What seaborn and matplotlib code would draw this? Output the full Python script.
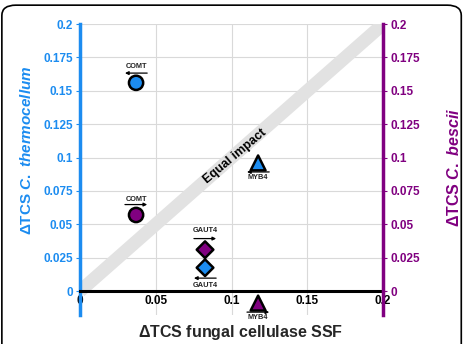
import matplotlib
matplotlib.use("Agg")
import matplotlib.pyplot as plt
import matplotlib.transforms as mtransforms
from matplotlib.patches import FancyBboxPatch
import seaborn as sns
import pandas as pd

# Data
genes = ['COMT', 'GAUT4', 'MYB4']
fungal_ssf = [0.037, 0.0825, 0.1175]
thermo_tcs = [0.156, 0.0175, 0.096]
bescii_tcs = [0.057, 0.031, -0.009]
yticks = [0, 0.025, 0.05, 0.075, 0.1, 0.125, 0.15, 0.175, 0.2]
xticks = [0, 0.05, 0.1, 0.15, 0.2]
ytick_labels = ['0', '0.025', '0.05', '0.075', '0.1', '0.125', '0.15', '0.175', '0.2']
xtick_labels = ['0', '0.05', '0.1', '0.15', '0.2']

BLUE = '#1c8cf0'
PURPLE = '#800080'

sns.set_style('white')
plt.rcParams['font.family'] = ['Liberation Sans', 'DejaVu Sans']
plt.rcParams['font.weight'] = 'bold'
plt.rcParams['mathtext.fontset'] = 'custom'
plt.rcParams['mathtext.it'] = 'Liberation Sans:italic:bold'
plt.rcParams['mathtext.rm'] = 'Liberation Sans:bold'

df = pd.DataFrame({
    'gene': genes * 2,
    'ssf': fungal_ssf * 2,
    'tcs': thermo_tcs + bescii_tcs,
    'organism': ['thermo'] * 3 + ['bescii'] * 3,
})

fig = plt.figure(figsize=(4.65, 3.44), dpi=100)
ax = fig.add_axes([0.172, 0.084, 0.652, 0.846])

# grid
for v in yticks[1:]:
    ax.axhline(v, color='#d9d9d9', lw=0.8, zorder=0)
for v in xticks[1:-1]:
    ax.axvline(v, color='#d9d9d9', lw=0.8, zorder=0)

# equal impact band
ax.plot([0, 0.2], [0, 0.2], color='#e2e2e2', lw=9.5, solid_capstyle='butt', zorder=1)
ax.text(0.102, 0.101, 'Equal impact', rotation=40, ha='center', va='center',
        fontsize=9, fontweight='bold', color='black', zorder=2,
        rotation_mode='anchor')

sns.scatterplot(data=df, x='ssf', y='tcs', hue='organism', style='gene', size='gene',
                palette={'thermo': BLUE, 'bescii': PURPLE},
                markers={'COMT': 'o', 'GAUT4': 'D', 'MYB4': '^'},
                sizes={'COMT': 105, 'GAUT4': 72, 'MYB4': 115},
                edgecolor='black', linewidth=1.8, legend=False,
                ax=ax, zorder=5, clip_on=False)

# gene labels with direction arrows
# (text offset, arrow offset, arrow direction) in points
label_specs = {
    ('thermo', 'COMT'): (11.5, 7, -1),
    ('thermo', 'GAUT4'): (-13, -7.5, -1),
    ('thermo', 'MYB4'): (-10.5, -6.5, -1),
    ('bescii', 'COMT'): (11.5, 7.5, 1),
    ('bescii', 'GAUT4'): (13.5, 8, 1),
    ('bescii', 'MYB4'): (-10.5, -6.5, 1),
}
for _, row in df.iterrows():
    t_off, a_off, direc = label_specs[(row['organism'], row['gene'])]
    ax.annotate(row['gene'], xy=(row['ssf'], row['tcs']), xytext=(0, t_off),
                textcoords='offset points', ha='center', va='center',
                fontsize=5.3, fontweight='bold', color='#222222', annotation_clip=False)
    head = mtransforms.offset_copy(ax.transData, fig=fig, x=8 * direc, y=a_off, units='points')
    ax.annotate('', xy=(row['ssf'], row['tcs']), xycoords=head,
                xytext=(-16 * direc, 0), textcoords='offset points',
                arrowprops=dict(arrowstyle='-|>', color='black', lw=0.9,
                                mutation_scale=5, shrinkA=0, shrinkB=0),
                annotation_clip=False)

ax.set_xlim(0, 0.2)
ax.set_ylim(-0.018, 0.2)
ax.set_xticks(xticks)
ax.set_xticklabels(xtick_labels)
ax.set_yticks(yticks)
ax.set_yticklabels(ytick_labels)

ax.spines['top'].set_visible(False)
ax.spines['right'].set_visible(False)
ax.spines['left'].set_color(BLUE)
ax.spines['left'].set_linewidth(2.5)
ax.spines['bottom'].set_position(('data', 0))
ax.spines['bottom'].set_linewidth(2.2)
ax.spines['bottom'].set_color('black')
ax.spines['bottom'].set_zorder(4)

ax.tick_params(axis='y', colors=BLUE, labelsize=8.5, length=3, width=0.8, pad=2)
ax.tick_params(axis='x', colors='black', labelsize=8.5, direction='in', length=3, width=0.8, pad=3)
for lbl in ax.get_xticklabels() + ax.get_yticklabels():
    lbl.set_fontweight('bold')

ax.set_xlabel(r'$\Delta$TCS fungal cellulase SSF', fontsize=11.5, fontweight='bold', va='bottom')
ax.xaxis.set_label_coords(0.53, -0.094)
ax.set_ylabel(r'$\Delta$TCS $\it{C.\ thermocellum}$', fontsize=11, fontweight='bold', color=BLUE)
ax.yaxis.set_label_coords(-0.152, 0.567)

# right axis for C. bescii
ax2 = ax.twinx()
ax2.set_ylim(ax.get_ylim())
ax2.set_yticks(yticks)
ax2.set_yticklabels(ytick_labels)
for side in ['top', 'left', 'bottom']:
    ax2.spines[side].set_visible(False)
ax2.spines['right'].set_color(PURPLE)
ax2.spines['right'].set_linewidth(2.5)
ax2.tick_params(axis='y', colors=PURPLE, labelsize=8.5, length=3, width=0.8, pad=2)
for lbl in ax2.get_yticklabels():
    lbl.set_fontweight('bold')
ax2.set_ylabel(r'$\Delta$TCS $\it{C.\ bescii}$', fontsize=11.5, fontweight='bold', color=PURPLE)
ax2.yaxis.set_label_coords(1.208, 0.509)

# rounded frame around the figure
frame = FancyBboxPatch((0.004, -0.2), 0.988, 1.185, boxstyle='round,pad=0,rounding_size=0.03',
                       transform=fig.transFigure, fill=False, edgecolor='black', lw=1.2)
fig.patches.append(frame)

fig.savefig('out.png', dpi=100)
